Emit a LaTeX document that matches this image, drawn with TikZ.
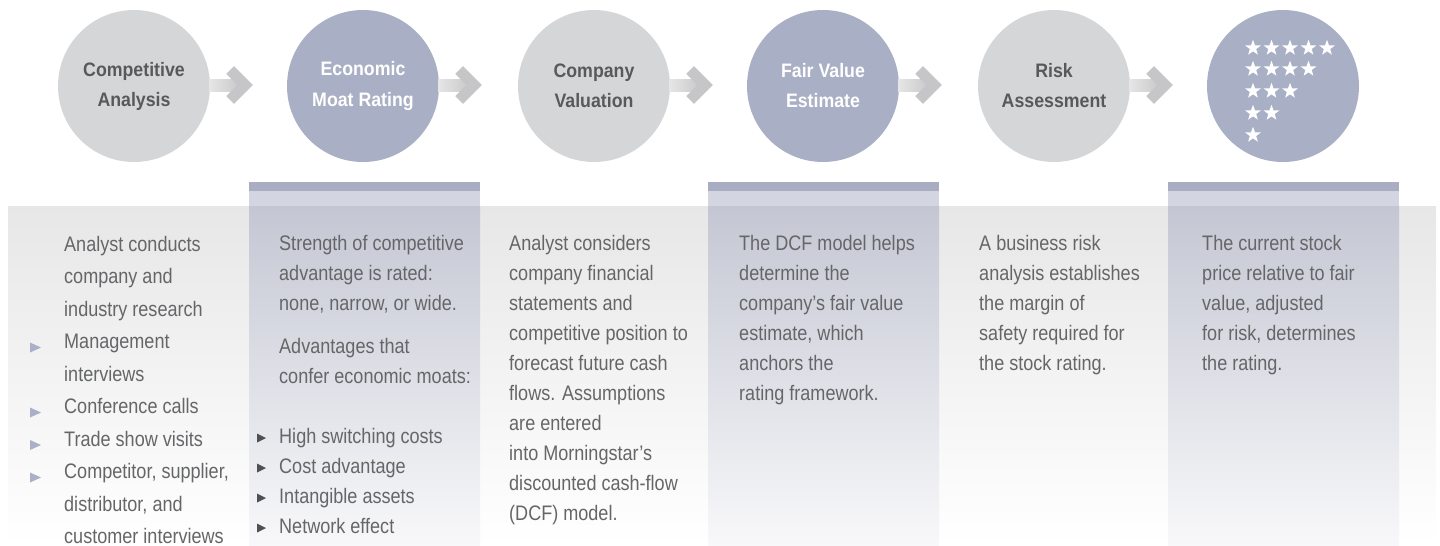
\documentclass[tikz,border=0pt]{standalone}
\usepackage{fontspec}
\setmainfont{Liberation Sans}[FakeStretch=0.86]
\newfontfamily\titlefont{Liberation Sans}[FakeStretch=0.91]
\usetikzlibrary{shapes.geometric,calc}
\definecolor{circgrey}{HTML}{D5D6D8}
\definecolor{circblue}{HTML}{A9AFC4}
\definecolor{titlegrey}{HTML}{58595B}
\definecolor{bodygrey}{HTML}{656668}
\definecolor{bandtop}{HTML}{E7E7E8}
\definecolor{colbar}{HTML}{A8ADC2}
\definecolor{colpale}{HTML}{D3D6E0}
\definecolor{coltop}{HTML}{C4C7D3}
\definecolor{colbottom}{HTML}{F8F8FA}
\definecolor{arrowgrey}{HTML}{C6C6C8}
\definecolor{arrowlight}{HTML}{E6E6E7}
\definecolor{bulletblue}{HTML}{AAB0C8}
\definecolor{bulletdark}{HTML}{505052}
\begin{document}
\begin{tikzpicture}[x=1pt,y=-1pt,
  stage/.style={circle, minimum size=152pt, inner sep=0pt, align=center,
    font=\titlefont\bfseries\fontsize{19.5}{30}\selectfont},
  greystage/.style={stage, fill=circgrey, text=titlegrey},
  bluestage/.style={stage, fill=circblue, text=white},
  body/.style={anchor=base west, inner sep=0pt, text=bodygrey,
    font=\fontsize{21}{30}\selectfont},
  bodywide/.style={body, font=\fontsize{21}{32.5}\selectfont},
  ratingstar/.style={star, star points=5, star point ratio=2.45, fill=white,
    inner sep=0pt, minimum size=16.5pt},
  chevron/.style={draw=arrowgrey, line width=11pt, line join=miter, line cap=butt}
]
\useasboundingbox (0,0) rectangle (1440,546);

% background band
\shade[top color=bandtop, bottom color=white] (8,206) rectangle (1436,546);

% highlighted columns
\foreach \x in {249,708,1168}{
  \fill[colbar] (\x,182) rectangle (\x+231,191);
  \fill[colpale] (\x,191) rectangle (\x+231,206);
  \shade[top color=coltop, bottom color=colbottom] (\x,206) rectangle (\x+231,546);
}

% stages
\node[greystage] (s1) at (134,86) {Competitive\\Analysis};
\node[bluestage] (s2) at (363,86) {Economic\\Moat Rating};
\node[greystage] (s3) at (594,86) {Company\\Valuation};
\node[bluestage] (s4) at (823,86) {Fair Value\\Estimate};
\node[greystage] (s5) at (1054,86) {Risk\\Assessment};
\node[bluestage] (s6) at (1283,86) {};

% arrows between stages
\foreach \a/\b in {s1/s2,s2/s3,s3/s4,s4/s5,s5/s6}{
  \shade[left color=arrowlight, right color=arrowgrey]
    ($(\a.east)+(-1,-7)$) rectangle ($(\a.east)+(32,5)$);
  \draw[chevron] ($(\a.east)+(20,-16)$) -- ($(\a.east)+(35,-1)$) -- ($(\a.east)+(20,14)$);
  \coordinate (tip-\a) at ($(\a.east)+(43,-1)$);
}

% rating stars
\foreach \row/\n/\y in {1/5/48,2/4/69,3/3/91,4/2/113,5/1/135}{
  \foreach \k in {1,...,\n}{
    \node[ratingstar] (star-\row-\k) at (1253+18.5*\k-18.5,\y) {};
  }
}

% column 1
\node[bodywide] (t1) at (64,251) {\begin{tabular}[t]{@{}l@{}}
Analyst conducts\\
company and\\
industry research\\
Management\\
interviews\\
Conference calls\\
Trade show visits\\
Competitor, supplier,\\
distributor, and\\
customer interviews
\end{tabular}};
\foreach \b in {348.5,413.5,446,478.5}{
  \fill[bulletblue] (30,\b-6) -- (41,\b-1) -- (30,\b+4) -- cycle;
}

% column 2
\node[body] (t2a) at (279,250) {\begin{tabular}[t]{@{}l@{}}
Strength of competitive\\
advantage is rated:\\
none, narrow, or wide.
\end{tabular}};
\node[body] (t2b) at (279,353) {\begin{tabular}[t]{@{}l@{}}
Advantages that\\
confer economic moats:
\end{tabular}};
\node[body] (t2c) at (279,443) {\begin{tabular}[t]{@{}l@{}}
High switching costs\\
Cost advantage\\
Intangible assets\\
Network effect
\end{tabular}};
\foreach \b in {443,473,503,533}{
  \fill[bulletdark] (257,\b-9.5) -- (266,\b-5) -- (257,\b-0.5) -- cycle;
}

% column 3
\node[body] (t3) at (509,250) {\begin{tabular}[t]{@{}l@{}}
Analyst considers\\
company financial\\
statements and\\
competitive position to\\
forecast future cash\\
flows. Assumptions\\
are entered\\
into Morningstar’s\\
discounted cash-flow\\
(DCF) model.
\end{tabular}};

% column 4
\node[body] (t4) at (739,250) {\begin{tabular}[t]{@{}l@{}}
The DCF model helps\\
determine the\\
company’s fair value\\
estimate, which\\
anchors the\\
rating framework.
\end{tabular}};

% column 5
\node[body] (t5) at (979,250) {\begin{tabular}[t]{@{}l@{}}
A business risk\\
analysis establishes\\
the margin of\\
safety required for\\
the stock rating.
\end{tabular}};

% column 6
\node[body] (t6) at (1202,250) {\begin{tabular}[t]{@{}l@{}}
The current stock\\
price relative to fair\\
value, adjusted\\
for risk, determines\\
the rating.
\end{tabular}};
\end{tikzpicture}
\end{document}
